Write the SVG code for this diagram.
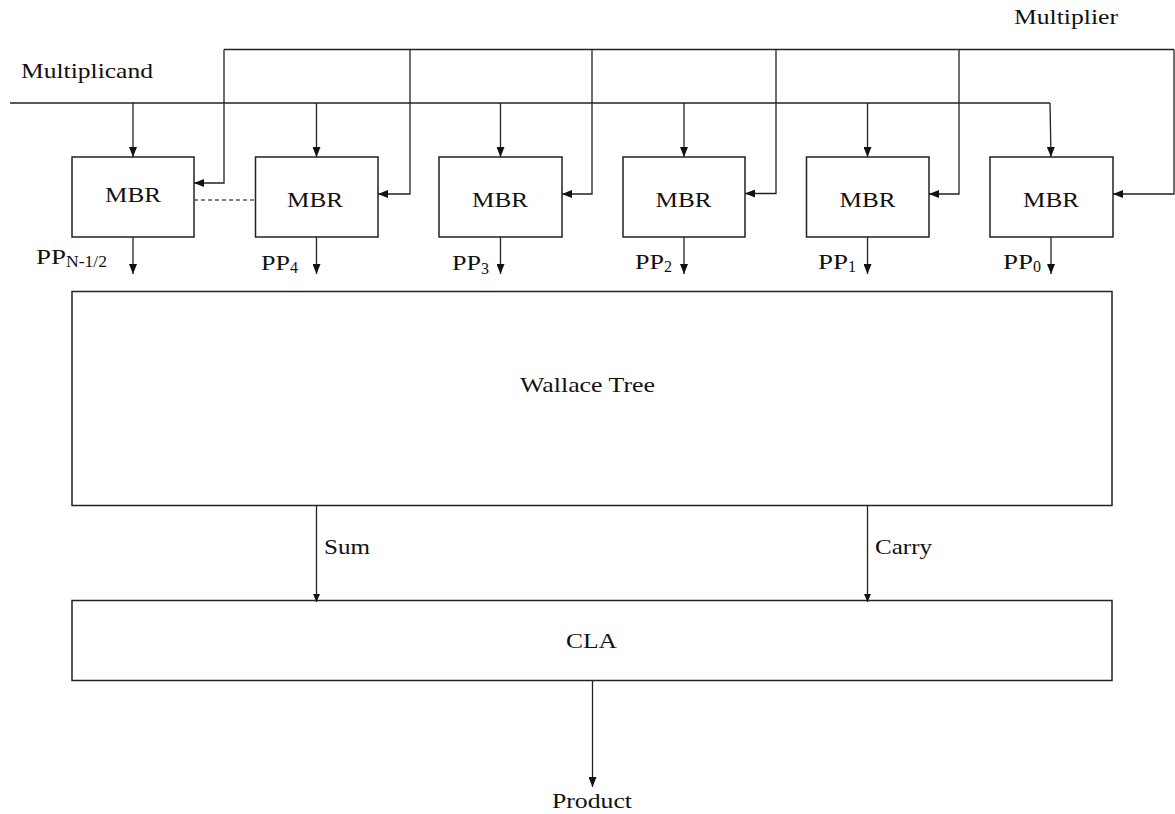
<svg xmlns="http://www.w3.org/2000/svg" width="1175" height="814" viewBox="0 0 1175 814">
  <style>
    .box { fill: #ffffff; stroke: #222222; stroke-width: 1.5; }
    .wire { fill: none; stroke: #222222; stroke-width: 1.3; }
    .dash { fill: none; stroke: #555555; stroke-width: 1.3; stroke-dasharray: 4 3; }
    .t { font-family: "Liberation Serif", "Times New Roman", serif; font-size: 22px; fill: #111111; }
    .s { font-family: "Liberation Serif", "Times New Roman", serif; font-size: 16px; fill: #111111; }
  </style>
  <defs>
    <marker id="arr" viewBox="0 0 10 8" refX="10" refY="4" markerWidth="10" markerHeight="8" orient="auto" markerUnits="userSpaceOnUse">
      <path d="M0,0 L10,4 L0,8 Z" fill="#111111"/>
    </marker>
    <marker id="arrs" viewBox="0 0 8 7" refX="8" refY="3.5" markerWidth="8" markerHeight="7" orient="auto" markerUnits="userSpaceOnUse">
      <path d="M0,0 L8,3.5 L0,7 Z" fill="#111111"/>
    </marker>
  </defs>

  <rect width="1175" height="814" fill="#ffffff"/>

  <!-- bus labels -->
  <g id="label-multiplicand">
    <text class="t" x="21" y="78" textLength="132" lengthAdjust="spacingAndGlyphs">Multiplicand</text>
  </g>
  <g id="label-multiplier">
    <text class="t" x="1014" y="24" textLength="104" lengthAdjust="spacingAndGlyphs">Multiplier</text>
  </g>

  <!-- Booth recoder blocks -->
  <g id="mbr-n">
    <rect class="box" x="72" y="157" width="122" height="80"/>
    <text class="t" x="105" y="202" textLength="56" lengthAdjust="spacingAndGlyphs">MBR</text>
  </g>
  <g id="mbr-4">
    <rect class="box" x="255.5" y="157" width="122.5" height="80"/>
    <text class="t" x="287" y="207" textLength="56" lengthAdjust="spacingAndGlyphs">MBR</text>
  </g>
  <g id="mbr-3">
    <rect class="box" x="439" y="157" width="123" height="80"/>
    <text class="t" x="472" y="207" textLength="56" lengthAdjust="spacingAndGlyphs">MBR</text>
  </g>
  <g id="mbr-2">
    <rect class="box" x="623" y="157" width="122" height="80"/>
    <text class="t" x="655.5" y="207" textLength="56" lengthAdjust="spacingAndGlyphs">MBR</text>
  </g>
  <g id="mbr-1">
    <rect class="box" x="806.5" y="157" width="122.5" height="80"/>
    <text class="t" x="839.5" y="207" textLength="56" lengthAdjust="spacingAndGlyphs">MBR</text>
  </g>
  <g id="mbr-0">
    <rect class="box" x="990" y="157" width="123" height="80"/>
    <text class="t" x="1023" y="207" textLength="56" lengthAdjust="spacingAndGlyphs">MBR</text>
  </g>

  <!-- partial product labels -->
  <g id="pp-labels">
    <text class="t" x="36" y="264" textLength="30" lengthAdjust="spacingAndGlyphs">PP</text>
    <text class="s" x="66" y="267" textLength="41" lengthAdjust="spacingAndGlyphs">N-1/2</text>
    <text class="t" x="261" y="270" textLength="29" lengthAdjust="spacingAndGlyphs">PP</text>
    <text class="s" x="290" y="273">4</text>
    <text class="t" x="452" y="270" textLength="29" lengthAdjust="spacingAndGlyphs">PP</text>
    <text class="s" x="481" y="274">3</text>
    <text class="t" x="635" y="269" textLength="29" lengthAdjust="spacingAndGlyphs">PP</text>
    <text class="s" x="664" y="272">2</text>
    <text class="t" x="818" y="269" textLength="30" lengthAdjust="spacingAndGlyphs">PP</text>
    <text class="s" x="848" y="272">1</text>
    <text class="t" x="1003" y="269" textLength="30" lengthAdjust="spacingAndGlyphs">PP</text>
    <text class="s" x="1033" y="272">0</text>
  </g>

  <!-- adder stages -->
  <g id="wallace-tree">
    <rect class="box" x="72" y="291.5" width="1040" height="214"/>
    <text class="t" x="520" y="392" textLength="135" lengthAdjust="spacingAndGlyphs">Wallace Tree</text>
  </g>
  <g id="cla">
    <rect class="box" x="72" y="600.5" width="1040" height="80"/>
    <text class="t" x="566" y="648" textLength="51" lengthAdjust="spacingAndGlyphs">CLA</text>
  </g>
  <g id="product">
    <text class="t" x="552" y="808" textLength="80" lengthAdjust="spacingAndGlyphs">Product</text>
  </g>

  <g id="connectors">
    <!-- multiplicand bus and taps -->
    <line class="wire" x1="10" y1="103" x2="1050" y2="103"/>
    <line class="wire" x1="133" y1="103" x2="133" y2="157" marker-end="url(#arr)"/>
    <line class="wire" x1="316.5" y1="103" x2="316.5" y2="157" marker-end="url(#arr)"/>
    <line class="wire" x1="500.5" y1="103" x2="500.5" y2="157" marker-end="url(#arr)"/>
    <line class="wire" x1="684" y1="103" x2="684" y2="157" marker-end="url(#arr)"/>
    <line class="wire" x1="867.5" y1="103" x2="867.5" y2="157" marker-end="url(#arr)"/>
    <line class="wire" x1="1050" y1="103" x2="1051" y2="157" marker-end="url(#arr)"/>

    <!-- multiplier bus and taps -->
    <line class="wire" x1="224" y1="49.5" x2="1174" y2="49.5"/>
    <polyline class="wire" points="224,49.5 224,183 194,183" marker-end="url(#arr)"/>
    <polyline class="wire" points="410,49.5 410,194 378,194" marker-end="url(#arr)"/>
    <polyline class="wire" points="592,49.5 592,194 562,194" marker-end="url(#arr)"/>
    <polyline class="wire" points="776,49.5 776,193.5 745,193.5" marker-end="url(#arr)"/>
    <polyline class="wire" points="959,49.5 959,194 929,194" marker-end="url(#arr)"/>
    <polyline class="wire" points="1174,49.5 1174,194 1113,194" marker-end="url(#arr)"/>

    <!-- chain between the outer blocks -->
    <line class="dash" x1="194" y1="200" x2="255.5" y2="200"/>

    <!-- partial product outputs -->
    <line class="wire" x1="133" y1="237" x2="133" y2="274" marker-end="url(#arr)"/>
    <line class="wire" x1="316.5" y1="237" x2="316.5" y2="274" marker-end="url(#arr)"/>
    <line class="wire" x1="500.5" y1="237" x2="500.5" y2="274" marker-end="url(#arr)"/>
    <line class="wire" x1="684" y1="237" x2="684" y2="274" marker-end="url(#arr)"/>
    <line class="wire" x1="867.5" y1="237" x2="867.5" y2="274" marker-end="url(#arr)"/>
    <line class="wire" x1="1051" y1="237" x2="1051" y2="274" marker-end="url(#arr)"/>

    <!-- sum / carry into the CLA -->
    <line class="wire" x1="316.5" y1="505.5" x2="316.5" y2="602" marker-end="url(#arrs)"/>
    <line class="wire" x1="867.5" y1="505.5" x2="867.5" y2="602" marker-end="url(#arrs)"/>

    <!-- final product -->
    <line class="wire" x1="592.5" y1="680.5" x2="592.5" y2="787" marker-end="url(#arr)"/>
  </g>

  <g id="signal-labels">
    <text class="t" x="324" y="554" textLength="46" lengthAdjust="spacingAndGlyphs">Sum</text>
    <text class="t" x="875" y="554" textLength="57" lengthAdjust="spacingAndGlyphs">Carry</text>
  </g>
</svg>
